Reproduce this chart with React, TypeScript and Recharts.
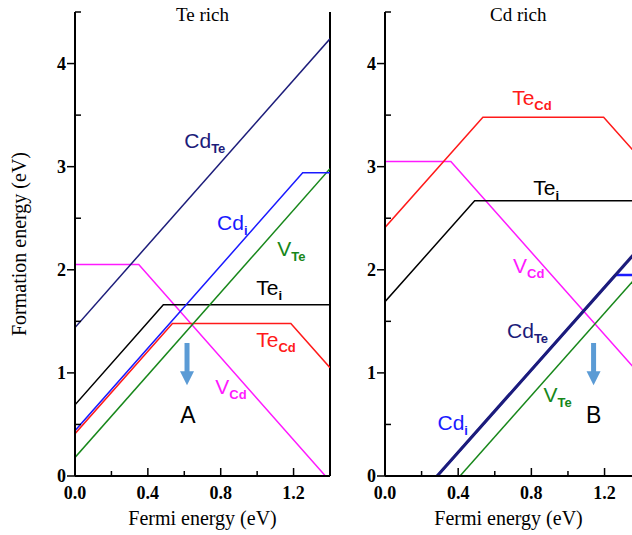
import React from 'react';
import { LineChart, Line, XAxis, YAxis, ReferenceDot, ReferenceLine } from 'recharts';

// Te rich panel
const teRichCdTe = [{ x: 0, y: 1.44 }, { x: 1.4, y: 4.24 }];
const teRichCdI = [{ x: 0, y: 0.44 }, { x: 1.25, y: 2.94 }, { x: 1.4, y: 2.94 }];
const teRichVTe = [{ x: 0, y: 0.18 }, { x: 1.4, y: 2.98 }];
const teRichTeI = [{ x: 0, y: 0.69 }, { x: 0.485, y: 1.66 }, { x: 1.4, y: 1.66 }];
const teRichTeCd = [{ x: 0, y: 0.41 }, { x: 0.535, y: 1.48 }, { x: 1.185, y: 1.48 }, { x: 1.4, y: 1.05 }];
const teRichVCd = [{ x: 0, y: 2.05 }, { x: 0.35, y: 2.05 }, { x: 1.375, y: 0 }];

// Cd rich panel
const cdRichCdTe = [{ x: 0.285, y: 0 }, { x: 1.4, y: 2.23 }];
const cdRichCdI = [{ x: 0.285, y: 0 }, { x: 1.26, y: 1.95 }, { x: 1.4, y: 1.95 }];
const cdRichVTe = [{ x: 0.41, y: 0 }, { x: 1.4, y: 1.98 }];
const cdRichTeI = [{ x: 0, y: 1.69 }, { x: 0.49, y: 2.67 }, { x: 1.4, y: 2.67 }];
const cdRichTeCd = [{ x: 0, y: 2.41 }, { x: 0.535, y: 3.48 }, { x: 1.195, y: 3.48 }, { x: 1.4, y: 3.07 }];
const cdRichVCd = [{ x: 0, y: 3.05 }, { x: 0.36, y: 3.05 }, { x: 1.4, y: 0.97 }];

const xTicks = [0, 0.2, 0.4, 0.6, 0.8, 1.0, 1.2, 1.4];
const yTicks = [0, 0.5, 1, 1.5, 2, 2.5, 3, 3.5, 4, 4.5];

const NAVY = '#1c1c7a';
const BLUE = '#1a1aff';
const GREEN = '#17871a';
const RED = '#ff1a1a';
const MAGENTA = '#ff1aff';
const ARROW = '#5b9bd5';
const SERIF = '"Liberation Serif", "Times New Roman", serif';
const SANS = '"Liberation Sans", Arial, sans-serif';

const teRichLabels = [
  { x: 0.6, y: 3.18, main: 'Cd', sub: 'Te', color: NAVY },
  { x: 0.78, y: 2.39, main: 'Cd', sub: 'i', color: BLUE },
  { x: 1.11, y: 2.13, main: 'V', sub: 'Te', color: GREEN },
  { x: 0.995, y: 1.76, main: 'Te', sub: 'i', color: '#000' },
  { x: 0.995, y: 1.25, main: 'Te', sub: 'Cd', color: RED },
  { x: 0.77, y: 0.8, main: 'V', sub: 'Cd', color: MAGENTA },
];
const cdRichLabels = [
  { x: 0.695, y: 3.6, main: 'Te', sub: 'Cd', color: RED },
  { x: 0.81, y: 2.73, main: 'Te', sub: 'i', color: '#000' },
  { x: 0.7, y: 1.97, main: 'V', sub: 'Cd', color: MAGENTA },
  { x: 0.667, y: 1.34, main: 'Cd', sub: 'Te', color: NAVY },
  { x: 0.287, y: 0.45, main: 'Cd', sub: 'i', color: BLUE },
  { x: 0.866, y: 0.72, main: 'V', sub: 'Te', color: GREEN },
];

const XTick = (props: any) => {
  const { x, y, payload } = props;
  const v = payload.value;
  const major = Math.round(v * 10) % 4 === 0;
  return (
    <g>
      <line x1={x} x2={x} y1={y} y2={y - (major ? 8 : 5)} stroke="#000" strokeWidth={1.5} />
      {major && v < 1.3 && (
        <text x={x} y={y + 23} textAnchor="middle" fontFamily={SERIF} fontWeight="bold" fontSize={18} fill="#000">
          {v.toFixed(1)}
        </text>
      )}
    </g>
  );
};

const YTick = (props: any) => {
  const { x, y, payload } = props;
  const v = payload.value;
  const major = Number.isInteger(v);
  return (
    <g>
      {major ? (
        <line x1={x - 8} x2={x} y1={y} y2={y} stroke="#000" strokeWidth={1.5} />
      ) : (
        <line x1={x} x2={x + 6} y1={y} y2={y} stroke="#000" strokeWidth={1.5} />
      )}
      {major && v < 4.5 && (
        <text x={x - 9} y={y + 6} textAnchor="end" fontFamily={SERIF} fontWeight="bold" fontSize={18} fill="#000">
          {v}
        </text>
      )}
    </g>
  );
};

const defectLabel = (main: string, sub: string, color: string) => (p: any) => (
  <text x={p.cx} y={p.cy} fill={color} fontFamily={SANS} fontSize={21}>
    {main}
    <tspan fontSize={13} fontWeight="bold" dy={5}>{sub}</tspan>
  </text>
);

const plainText = (txt: string, font: string, size: number, anchor: string) => (p: any) => (
  <text x={p.cx} y={p.cy} fill="#000" fontFamily={font} fontSize={size} textAnchor={anchor}>
    {txt}
  </text>
);

const arrowShape = (p: any) => {
  const { x1, y1, y2 } = p;
  const head = 14;
  return (
    <g>
      <rect x={x1 - 2.5} y={y1} width={5} height={y2 - y1 - head + 1} fill={ARROW} />
      <polygon points={`${x1 - 7},${y2 - head} ${x1 + 7},${y2 - head} ${x1},${y2}`} fill={ARROW} />
    </g>
  );
};

function Panel(props: any) {
  const { series, labels, title, titleX, letter, letterX, arrowX, xMax, showLeftLabel, showFrame, margin, width } = props;
  return (
    <LineChart width={width} height={535} margin={margin}>
      <XAxis
        type="number"
        dataKey="x"
        domain={[0, xMax]}
        allowDataOverflow
        ticks={xTicks.filter((t) => t <= xMax + 1e-9)}
        tick={<XTick />}
        tickSize={0}
        tickMargin={0}
        tickLine={false}
        axisLine={{ stroke: '#000', strokeWidth: 2 }}
        height={59}
        label={{ value: 'Fermi energy (eV)', position: 'insideBottom', offset: 10, fontFamily: SERIF, fontSize: 20, fill: '#000' }}
      />
      <YAxis
        yAxisId="l"
        type="number"
        domain={[0, 4.5]}
        allowDataOverflow
        ticks={yTicks}
        tick={<YTick />}
        tickSize={0}
        tickMargin={0}
        tickLine={false}
        axisLine={{ stroke: '#000', strokeWidth: 2 }}
        width={showLeftLabel ? 75 : 45}
        label={
          showLeftLabel
            ? { value: 'Formation energy (eV)', angle: -90, position: 'insideLeft', offset: 19, fontFamily: SERIF, fontSize: 20, fill: '#000', style: { textAnchor: 'middle' } }
            : undefined
        }
      />
      {showFrame && (
        <ReferenceLine yAxisId="l" x={xMax} stroke="#000" strokeWidth={2} />
      )}
      {series.map((s: any, i: number) => (
        <Line
          key={i}
          yAxisId="l"
          data={s.data}
          dataKey="y"
          type="linear"
          stroke={s.color}
          strokeWidth={s.width || 1.5}
          dot={false}
          isAnimationActive={false}
        />
      ))}
      <ReferenceLine
        yAxisId="l"
        segment={[{ x: arrowX, y: 1.29 }, { x: arrowX, y: 0.88 }]}
        shape={arrowShape}
        ifOverflow="visible"
      />
      {labels.map((l: any, i: number) => (
        <ReferenceDot key={i} yAxisId="l" x={l.x} y={l.y} r={0} ifOverflow="visible" shape={defectLabel(l.main, l.sub, l.color)} />
      ))}
      <ReferenceDot yAxisId="l" x={titleX} y={4.41} r={0} ifOverflow="visible" shape={plainText(title, SERIF, 19, 'middle')} />
      <ReferenceDot yAxisId="l" x={letterX} y={0.51} r={0} ifOverflow="visible" shape={plainText(letter, SANS, 23, 'middle')} />
    </LineChart>
  );
}

export default function App() {
  const teRichSeries = [
    { data: teRichVCd, color: MAGENTA },
    { data: teRichTeI, color: '#000' },
    { data: teRichTeCd, color: RED },
    { data: teRichVTe, color: GREEN },
    { data: teRichCdI, color: BLUE },
    { data: teRichCdTe, color: NAVY },
  ];
  const cdRichSeries = [
    { data: cdRichVCd, color: MAGENTA },
    { data: cdRichTeI, color: '#000' },
    { data: cdRichTeCd, color: RED },
    { data: cdRichVTe, color: GREEN },
    { data: cdRichCdI, color: BLUE, width: 2.5 },
    { data: cdRichCdTe, color: NAVY, width: 3 },
  ];
  return (
    <div style={{ position: 'absolute', left: 0, top: 0, width: 632, height: 535, background: '#fff', overflow: 'hidden' }}>
      <div style={{ position: 'absolute', left: 0, top: 0 }}>
        <Panel
          width={345}
          margin={{ top: 12, right: 15, bottom: 0, left: 0 }}
          series={teRichSeries}
          labels={teRichLabels}
          title="Te rich"
          titleX={0.7}
          letter="A"
          letterX={0.62}
          arrowX={0.615}
          xMax={1.4}
          showLeftLabel
          showFrame
        />
      </div>
      <div style={{ position: 'absolute', left: 340, top: 0 }}>
        <Panel
          width={292}
          margin={{ top: 12, right: 0, bottom: 0, left: 0 }}
          series={cdRichSeries}
          labels={cdRichLabels}
          title="Cd rich"
          titleX={0.728}
          letter="B"
          letterX={1.14}
          arrowX={1.14}
          xMax={1.35}
          showLeftLabel={false}
          showFrame={false}
        />
      </div>
    </div>
  );
}
